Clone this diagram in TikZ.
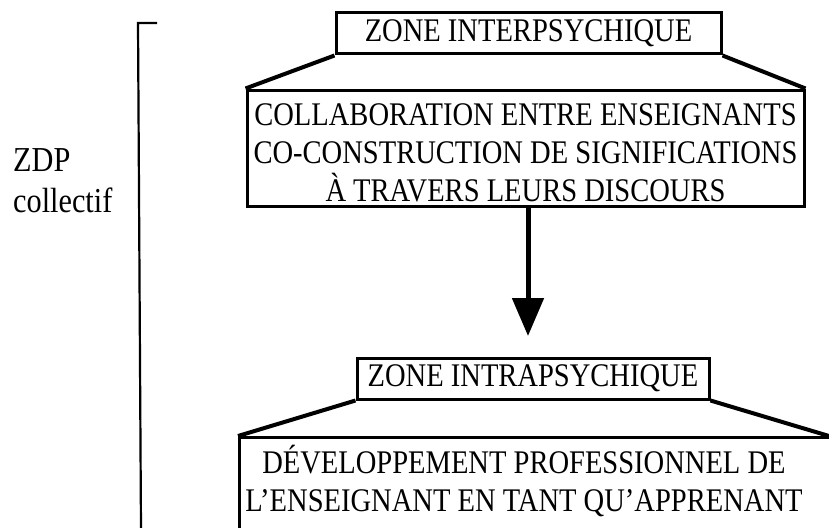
\documentclass[tikz,border=0pt]{standalone}
\usepackage{fontspec}
\setmainfont{Liberation Serif}
\newfontfamily\narrowserif{Liberation Serif}[FakeStretch=0.865]
\usetikzlibrary{arrows.meta}
\tikzset{
    zonebox/.style={rectangle,draw,line width=3pt,inner sep=0pt,font=\narrowserif\fontsize{33}{38}\selectfont},
    bigbox/.style={rectangle,draw,line width=3pt,inner sep=0pt,font=\narrowserif\fontsize{33}{38}\selectfont,align=center},
    boxtext/.style={rectangle,draw=none,inner sep=0pt,font=\narrowserif\fontsize{33}{38}\selectfont,align=center},
    sidelabel/.style={rectangle,draw=none,inner sep=0pt,font=\narrowserif\fontsize{35}{41}\selectfont,align=left},
    slant/.style={line width=4pt},
    flow/.style={line width=5pt,arrows={-Triangle[length=38pt,width=31pt]}},
    bracket/.style={line width=2.2pt},
    }
\begin{document}
\begin{tikzpicture}[x=1pt,y=-1pt]
        \useasboundingbox (0,0) rectangle (829,527);
        \node[zonebox,minimum width=385,minimum height=41] (zinter) at (528.5,33.5) {ZONE INTERPSYCHIQUE};
        \node[bigbox,minimum width=557,minimum height=116] (collab) at (525.5,148) {\rule{0pt}{32pt}COLLABORATION ENTRE ENSEIGNANTS\\CO-CONSTRUCTION DE SIGNIFICATIONS\\À TRAVERS LEURS DISCOURS};
        \node[zonebox,minimum width=352,minimum height=41] (zintra) at (533,378.5) {ZONE INTRAPSYCHIQUE};
        \node[bigbox,anchor=north west,minimum width=600,minimum height=100] (devbox) at (238,436) {};
        \node[boxtext] (devpro) at (524,481) {DÉVELOPPEMENT PROFESSIONNEL DE\\L’ENSEIGNANT EN TANT QU’APPRENANT};
        \node[sidelabel,anchor=west] (zdp) at (13,181) {ZDP\\collectif};
        \coordinate (tip) at (528,336);
        \coordinate (brhook) at (157,23);
        \coordinate (brtop) at (138,23);
        \coordinate (brbot) at (141,530);

        \draw[slant] (zinter.south west) -- (collab.north west);
        \draw[slant] (zinter.south east) -- (collab.north east);
        \draw[slant] (zintra.south west) -- (devbox.north west);
        \draw[slant] (zintra.south east) -- (devbox.north west -| 829,0);
        \draw[flow] (collab.south -| tip) -- (tip);
        \draw[bracket] (brhook) -- (brtop) -- (brbot);
    \end{tikzpicture}
\end{document}
